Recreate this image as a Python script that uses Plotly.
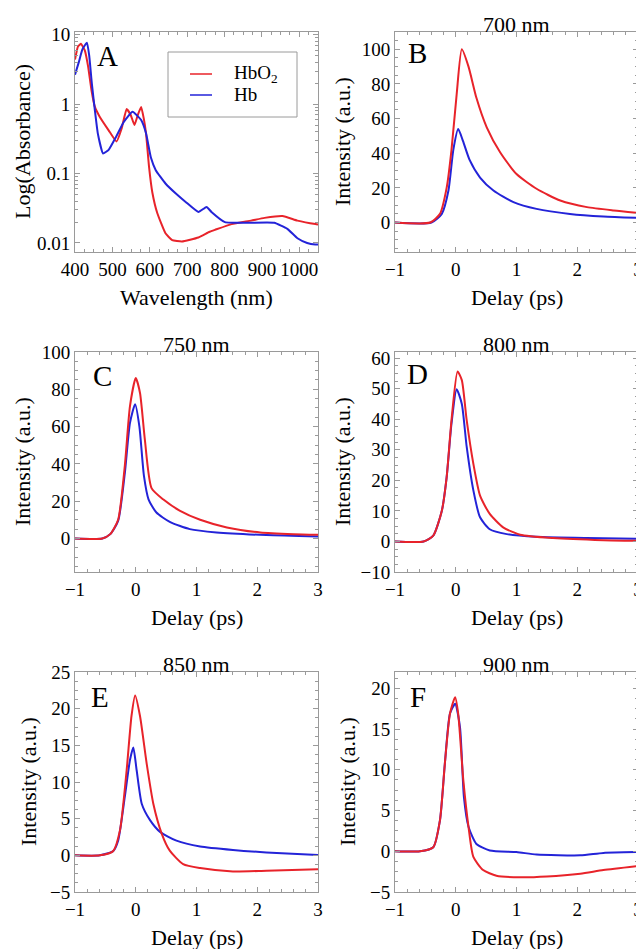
import plotly.graph_objects as go
from plotly.subplots import make_subplots

# Panel A: absorbance spectra
wl_hbo2 = [400, 408, 416, 426, 435, 444, 453, 466, 490, 511, 525, 538, 549, 559, 568, 577, 584, 590,
           598, 607, 620, 642, 660, 686, 730, 760, 775, 819, 871, 907, 955, 995, 1043, 1050]
abs_hbo2 = [4.4, 6.8, 7.4, 6.0, 3.5, 1.6, 0.92, 0.66, 0.42, 0.29, 0.45, 0.85, 0.7, 0.50, 0.7, 0.91, 0.62, 0.38,
            0.126, 0.053, 0.027, 0.0138, 0.011, 0.0105, 0.012, 0.0145, 0.0155, 0.0187, 0.021, 0.023, 0.0245,
            0.021, 0.0187, 0.0185]
wl_hb = [400, 410, 420, 432, 438, 445, 453, 461, 475, 490, 510, 530, 554, 577, 590, 603, 616, 642,
         669, 696, 730, 752, 765, 801, 862, 933, 968, 995, 1021, 1043, 1050]
abs_hb = [2.65, 4.0, 6.2, 7.7, 5.0, 2.0, 0.83, 0.38, 0.195, 0.22, 0.34, 0.55, 0.78, 0.59, 0.38, 0.17,
          0.112, 0.072, 0.052, 0.039, 0.028, 0.033, 0.028, 0.020, 0.0195, 0.0195, 0.016, 0.0117, 0.010,
          0.0095, 0.0095]

# Panel B: 700 nm
b_t_hbo2 = [-1, -0.42, -0.26, -0.15, -0.07, 0.015, 0.1, 0.21, 0.34, 0.51, 0.73, 1.0, 1.33, 1.72, 2.16, 2.6, 3.0]
b_hbo2 = [0, 0, 5, 20, 42, 74, 100, 90, 72, 55, 40.6, 28, 19.5, 12.7, 8.9, 7, 5.6]
b_t_hb = [-1, -0.4, -0.23, -0.12, -0.04, 0.04, 0.12, 0.23, 0.4, 0.62, 0.95, 1.33, 1.88, 2.43, 3.0]
b_hb = [0, 0, 5, 18.5, 42, 54, 47, 36, 26, 18.5, 11.8, 7.9, 5, 3.5, 2.7]

# Panel C: 750 nm
c_t_hbo2 = [-1, -0.55, -0.42, -0.29, -0.18, -0.095, 0.0, 0.07, 0.15, 0.26, 0.45, 0.73, 1.06, 1.5, 2.05, 2.6, 3.0]
c_hbo2 = [0, 0, 2.3, 10, 39, 71, 86, 78, 53, 27, 21, 14.8, 10, 5.9, 3.2, 2.3, 2]
c_t_hb = [-1, -0.55, -0.42, -0.29, -0.18, -0.095, -0.01, 0.06, 0.135, 0.21, 0.34, 0.56, 0.89, 1.33, 2.15, 3.0]
c_hb = [0, 0, 2.3, 9.4, 35, 62, 72, 60, 33.5, 21, 13.9, 8.9, 5, 3.2, 1.8, 1.1]

# Panel D: 800 nm
d_t_hbo2 = [-1, -0.53, -0.37, -0.23, -0.15, -0.07, 0.03, 0.1, 0.18, 0.29, 0.4, 0.56, 0.78, 1.06, 1.6, 2.43, 3.0]
d_hbo2 = [0, 0, 1.9, 10, 21, 39.7, 55.6, 52.8, 39.7, 25.4, 15, 9, 4.6, 2.2, 1.1, 0.4, 0.2]
d_t_hb = [-1, -0.53, -0.37, -0.23, -0.15, -0.07, 0.015, 0.1, 0.18, 0.29, 0.4, 0.56, 0.84, 1.33, 2.15, 3.0]
d_hb = [0, 0, 1.9, 10, 21, 38.6, 49.8, 45, 31, 16.7, 7.9, 4, 2.4, 1.5, 1.1, 0.9]

# Panel E: 850 nm
e_t_hbo2 = [-1, -0.59, -0.37, -0.26, -0.15, -0.07, -0.01, 0.07, 0.18, 0.29, 0.43, 0.56, 0.78, 1.06, 1.6, 2.15, 3.0]
e_hbo2 = [0, 0, 0.6, 3.4, 11.6, 19, 21.8, 19, 12.5, 7, 2.9, 0.64, -1.2, -1.74, -2.2, -2.1, -1.9]
e_t_hb = [-1, -0.59, -0.37, -0.29, -0.18, -0.095, -0.04, 0.015, 0.1, 0.235, 0.4, 0.67, 1.06, 1.6, 2.15, 3.0]
e_hb = [0, 0, 0.6, 2, 8, 13, 14.7, 11.6, 7, 4.8, 3.2, 2, 1.2, 0.73, 0.4, 0.05]

# Panel F: 900 nm
f_t_hbo2 = [-1, -0.59, -0.37, -0.26, -0.18, -0.095, -0.01, 0.04, 0.125, 0.21, 0.29, 0.45, 0.67, 1.06, 1.5, 2.05, 2.43, 3.0]
f_hbo2 = [0, 0, 0.5, 3.8, 10.7, 16.9, 18.9, 16.9, 8.7, 3, -0.7, -2.3, -3, -3.2, -3.1, -2.75, -2.3, -1.8]
f_t_hb = [-1, -0.59, -0.37, -0.26, -0.18, -0.095, -0.01, 0.07, 0.135, 0.21, 0.34, 0.56, 1.0, 1.33, 2.05, 2.43, 3.0]
f_hb = [0, 0, 0.5, 3.8, 10.7, 16.9, 18.1, 15.2, 6.6, 3, 0.9, 0.1, -0.1, -0.4, -0.5, -0.2, -0.1]

RED = "#e8232a"
BLUE = "#2323d8"
FONT = "Liberation Serif, DejaVu Serif, Noto Serif, Tinos, serif"
GRAY = "#9a9a9a"
# the page body has an 8px margin, so the figure is drawn 8px right/down of the window corner
OFF = 8
W, H = 644 - OFF, 949 - OFF

fig = make_subplots(rows=3, cols=2)

# plot boxes in window pixels (left, right) and (top, bottom)
x_px = [(75, 318), (395, 638)]
y_px = [(32, 252), (352, 572), (672, 892)]

def px_x(v):
    return (v - OFF) / W

def px_y(v):
    return 1 - (v - OFF) / H

x_dom = [[px_x(a), px_x(b)] for a, b in x_px]
y_dom = [[px_y(b), px_y(a)] for a, b in y_px]

def line(x, y, color, smooth=0.6):
    return go.Scatter(x=x, y=y, mode="lines", showlegend=False,
                      line=dict(color=color, width=2, shape="spline", smoothing=smooth))

fig.add_trace(line(wl_hbo2, abs_hbo2, RED, 0.4), row=1, col=1)
fig.add_trace(line(wl_hb, abs_hb, BLUE, 0.4), row=1, col=1)

panels = [
    (1, 2, b_t_hbo2, b_hbo2, b_t_hb, b_hb),
    (2, 1, c_t_hbo2, c_hbo2, c_t_hb, c_hb),
    (2, 2, d_t_hbo2, d_hbo2, d_t_hb, d_hb),
    (3, 1, e_t_hbo2, e_hbo2, e_t_hb, e_hb),
    (3, 2, f_t_hbo2, f_hbo2, f_t_hb, f_hb),
]
for r, c, tx1, y1, tx2, y2 in panels:
    fig.add_trace(line(tx2, y2, BLUE), row=r, col=c)
    fig.add_trace(line(tx1, y1, RED), row=r, col=c)

axis_style = dict(showline=True, linecolor=GRAY, linewidth=1, mirror="allticks",
                  ticks="inside", ticklen=5, tickcolor=GRAY, showgrid=False, zeroline=False,
                  tickfont=dict(family=FONT, size=19, color="black"), ticklabeloverflow="allow",
                  automargin=False)

y_ranges = {(1, 2): [-17, 110], (2, 1): [-18, 100], (2, 2): [-10, 62], (3, 1): [-5, 25], (3, 2): [-5, 22]}
y_dticks = {(1, 2): 20, (2, 1): 20, (2, 2): 10, (3, 1): 5, (3, 2): 5}
log_minor = [m * 10 ** e for e in (-2, -1, 0) for m in range(2, 10)]

for r in range(1, 4):
    for c in range(1, 3):
        fig.update_xaxes(axis_style, domain=x_dom[c - 1], row=r, col=c)
        fig.update_yaxes(axis_style, domain=y_dom[r - 1], row=r, col=c)
        if (r, c) == (1, 1):
            fig.update_xaxes(range=[400, 1050], dtick=100,
                             minor=dict(ticks="inside", ticklen=3, tickcolor=GRAY, dtick=25), row=r, col=c)
            fig.update_yaxes(type="log", range=[-2.13, 1.04], tickvals=[0.01, 0.1, 1, 10],
                             ticktext=["0.01", "0.1", "1", "10"],
                             minor=dict(ticks="inside", ticklen=3, tickcolor=GRAY, tickvals=log_minor),
                             row=r, col=c)
        else:
            fig.update_xaxes(range=[-1, 3], dtick=1,
                             minor=dict(ticks="inside", ticklen=3, tickcolor=GRAY, dtick=0.2), row=r, col=c)
            fig.update_yaxes(range=y_ranges[(r, c)], dtick=y_dticks[(r, c)],
                             minor=dict(ticks="inside", ticklen=3, tickcolor=GRAY, dtick=y_dticks[(r, c)] / 4),
                             row=r, col=c)

def label(text, px, py, size, angle=0):
    fig.add_annotation(text=text, x=px_x(px), y=px_y(py), xref="paper", yref="paper",
                       xanchor="center", yanchor="middle", showarrow=False, textangle=angle,
                       font=dict(family=FONT, size=size, color="black"))

# axis titles
y_title_off = {(1, 1): 53, (1, 2): 53, (2, 1): 53, (2, 2): 53, (3, 1): 47, (3, 2): 48}
for r in range(1, 4):
    for c in range(1, 3):
        cx = (x_px[c - 1][0] + x_px[c - 1][1]) / 2
        cy = (y_px[r - 1][0] + y_px[r - 1][1]) / 2
        xt = "Wavelength (nm)" if (r, c) == (1, 1) else "Delay (ps)"
        yt = "Log(Absorbance)" if (r, c) == (1, 1) else "Intensity (a.u.)"
        label(xt, cx, y_px[r - 1][1] + 45, 22)
        label(yt, x_px[c - 1][0] - y_title_off[(r, c)], cy, 22, -90)

# panel titles
titles = [("700 nm", 1, 2), ("750 nm", 2, 1), ("800 nm", 2, 2), ("850 nm", 3, 1), ("900 nm", 3, 2)]
for text, r, c in titles:
    label(text, (x_px[c - 1][0] + x_px[c - 1][1]) / 2, y_px[r - 1][0] - 8, 22)

# panel letters
letters = [("A", 107, 56), ("B", 417, 53), ("C", 102, 376), ("D", 417, 374), ("E", 100, 697), ("F", 418, 697)]
for text, px, py in letters:
    label(text, px, py, 29)

# legend box for panel A
fig.add_shape(type="rect", xref="paper", yref="paper", x0=px_x(168), x1=px_x(297), y0=px_y(117), y1=px_y(52),
              line=dict(color=GRAY, width=1), fillcolor="white")
for name, color, py in [("HbO<sub>2</sub>", RED, 74), ("Hb", BLUE, 95)]:
    fig.add_shape(type="line", xref="paper", yref="paper", x0=px_x(190), x1=px_x(212), y0=px_y(py), y1=px_y(py),
                  line=dict(color=color, width=1.5))
    fig.add_annotation(text=name, x=px_x(232), y=px_y(py), xref="paper", yref="paper", xanchor="left",
                       yanchor="middle", showarrow=False, font=dict(family=FONT, size=19, color="black"))

fig.update_layout(
    width=W, height=H,
    margin=dict(l=0, r=0, t=0, b=0),
    paper_bgcolor="white", plot_bgcolor="white",
    font=dict(family=FONT, size=19, color="black"),
    showlegend=False,
)

fig.write_html("out.html")
